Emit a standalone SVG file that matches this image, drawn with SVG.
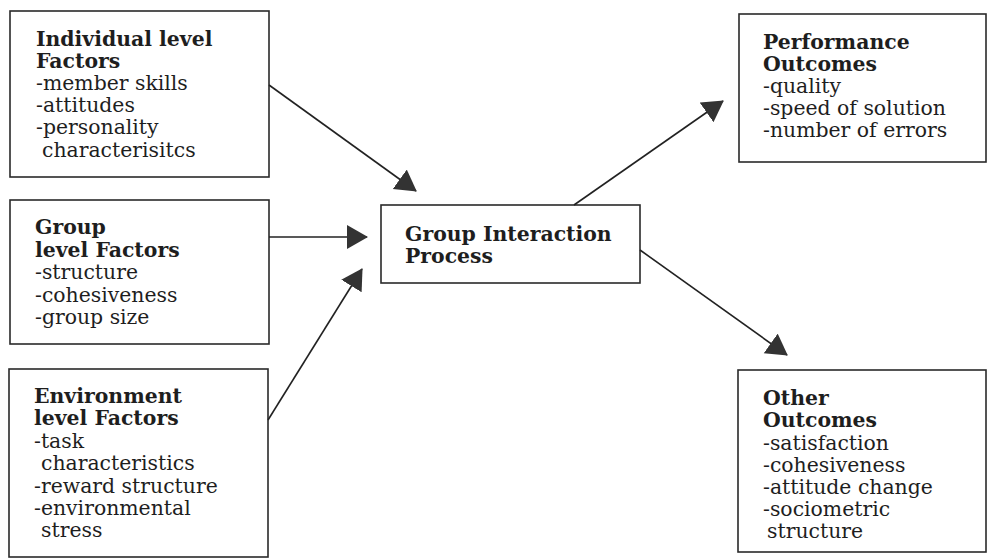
<svg xmlns="http://www.w3.org/2000/svg" width="987" height="560" viewBox="0 0 987 560">
<defs>
<style>
.box{fill:#fff;stroke:#2a2a2a;stroke-width:1.6}
.t{font-family:"DejaVu Serif","Liberation Serif",serif;font-size:20.4px;fill:#1e1e1e}
.b{font-weight:bold}
.conn line{stroke:#222;stroke-width:1.6}
</style>
<marker id="ah" markerUnits="userSpaceOnUse" markerWidth="24" markerHeight="26" refX="20" refY="12" orient="auto">
<path d="M0,0 L21,12 L0,24 z" fill="#333"/>
</marker>
</defs>
<rect width="987" height="560" fill="#fff"/>
<g id="individual">
<rect class="box" x="10" y="11" width="259" height="166"/>
<text class="t"><tspan class="b" x="36" y="46">Individual level</tspan><tspan class="b" x="36" y="68">Factors</tspan><tspan x="36" y="90">-member skills</tspan><tspan x="36" y="112">-attitudes</tspan><tspan x="36" y="134">-personality</tspan><tspan x="42" y="157">characterisitcs</tspan></text>
</g>
<g id="group">
<rect class="box" x="10" y="200" width="259" height="144"/>
<text class="t"><tspan class="b" x="35" y="234">Group</tspan><tspan class="b" x="35" y="257">level Factors</tspan><tspan x="35" y="279">-structure</tspan><tspan x="35" y="302">-cohesiveness</tspan><tspan x="35" y="324">-group size</tspan></text>
</g>
<g id="environment">
<rect class="box" x="9" y="369" width="259" height="188"/>
<text class="t"><tspan class="b" x="34" y="403">Environment</tspan><tspan class="b" x="34" y="425">level Factors</tspan><tspan x="34" y="448">-task</tspan><tspan x="41" y="470">characteristics</tspan><tspan x="34" y="493">-reward structure</tspan><tspan x="34" y="515">-environmental</tspan><tspan x="41" y="537">stress</tspan></text>
</g>
<g id="process">
<rect class="box" x="381" y="205" width="259" height="78"/>
<text class="t"><tspan class="b" x="405" y="241">Group Interaction</tspan><tspan class="b" x="405" y="263">Process</tspan></text>
</g>
<g id="performance">
<rect class="box" x="739" y="14" width="247" height="148"/>
<text class="t"><tspan class="b" x="763" y="49">Performance</tspan><tspan class="b" x="763" y="71">Outcomes</tspan><tspan x="763" y="93">-quality</tspan><tspan x="763" y="115">-speed of solution</tspan><tspan x="763" y="137">-number of errors</tspan></text>
</g>
<g id="other">
<rect class="box" x="738" y="370" width="248" height="182"/>
<text class="t"><tspan class="b" x="763" y="405">Other</tspan><tspan class="b" x="763" y="427">Outcomes</tspan><tspan x="763" y="450">-satisfaction</tspan><tspan x="763" y="472">-cohesiveness</tspan><tspan x="763" y="494">-attitude change</tspan><tspan x="763" y="516">-sociometric</tspan><tspan x="767" y="538">structure</tspan></text>
</g>
<g id="connectors" class="conn">
<line x1="269" y1="85" x2="416" y2="191" marker-end="url(#ah)"/>
<line x1="269" y1="237" x2="367" y2="237" marker-end="url(#ah)"/>
<line x1="268" y1="420" x2="362" y2="269" marker-end="url(#ah)"/>
<line x1="574" y1="205" x2="723" y2="101" marker-end="url(#ah)"/>
<line x1="640" y1="250" x2="787" y2="355" marker-end="url(#ah)"/>
</g>
</svg>
